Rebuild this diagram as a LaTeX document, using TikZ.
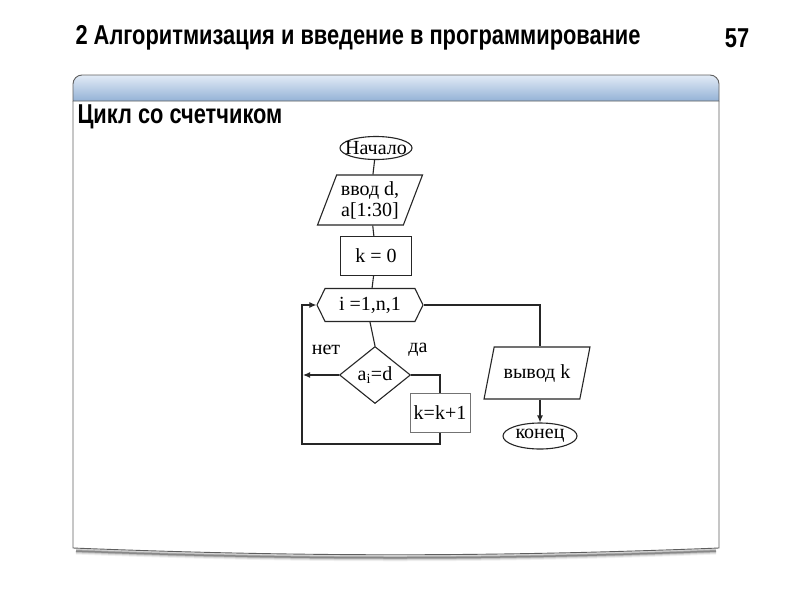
\documentclass[tikz,border=0pt]{standalone}
\usepackage{fontspec}
\setmainfont{Liberation Serif}
\newfontfamily\narrowfont[FakeStretch=0.8]{Liberation Sans}
\usetikzlibrary{shapes.geometric,shapes.symbols,arrows.meta}
\definecolor{headtop}{RGB}{226,235,246}
\definecolor{headbot}{RGB}{148,178,214}
\definecolor{framegray}{RGB}{95,95,95}
\begin{document}
\begin{tikzpicture}[x=1pt,y=-1pt,
    line width=1.1pt, draw=black!85,
    every node/.style={font=\fontsize{20}{21}\selectfont, inner sep=1pt},
    term/.style={ellipse,draw,minimum width=72pt,minimum height=23pt,inner xsep=-6pt,inner ysep=-2pt},
    io/.style={trapezium,draw,trapezium left angle=66,trapezium right angle=114,
      trapezium stretches=true,minimum width=106pt,minimum height=50pt,align=center,inner sep=0pt},
    proc/.style={rectangle,draw,minimum width=71pt,minimum height=39pt},
    thinproc/.style={rectangle,draw=black!55,line width=0.7pt,minimum width=60pt,minimum height=39pt,inner sep=0pt},
    test/.style={diamond,draw,aspect=1.25,minimum width=71pt,minimum height=57pt,inner sep=-4pt},
    loopbox/.style={signal,draw,signal to=west and east,signal pointer angle=128,
      minimum width=106pt,minimum height=33pt},
    head/.style={font=\narrowfont\bfseries\fontsize{27.3}{29}\selectfont,inner sep=0pt},
    flow/.style={-{Latex[length=7pt,width=6pt]}}]

  \useasboundingbox (0,0) rectangle (800,600);

  % slide
  \foreach \d/\o in {7/0.06,5/0.10,3/0.16,1.5/0.25}
    \draw[line width=\d pt,draw=black,opacity=\o] (76,551) .. controls (300,560) and (490,560) .. (716,551);
  \draw[line width=0.9pt,draw=framegray,fill=white]
    (73,101) -- (73,548) .. controls (300,557) and (490,557) .. (719,548) -- (719,101);
  \draw[line width=0.9pt,draw=framegray,top color=headtop,bottom color=headbot]
    (73,101) [rounded corners=9pt] -- (73,75) -- (719,75) [sharp corners] -- (719,101) -- cycle;
  \draw[line width=0.8pt,draw=white] (74,103) -- (718,103);

  \node[head,anchor=west] (title) at (75,38) {2 Алгоритмизация и введение в программирование};
  \node[head] (page) at (737,38) {57};
  \node[head,anchor=west] (topic) at (77,117) {Цикл со счетчиком};

  % flowchart
  \node[term] (start) at (376,148) {Начало};
  \node[io] (input) at (370,200) {ввод d,\\a[1:30]};
  \node[proc] (init) at (376,256) {k = 0};
  \node[loopbox] (loop) at (370,305) {i =1,n,1};
  \node[test] (cond) at (375,375) {a\textsubscript{i}=d};
  \node[thinproc] (inc) at (440,413) {k=k+1};
  \node[io,minimum height=52pt] (output) at (537,373) {вывод k};
  \node[term,minimum width=74pt,minimum height=26pt] (stop) at (540,436) {конец};

  \node (no) at (326,350) {нет};
  \node (yes) at (418,350) {да};

  \coordinate (back) at (302,444);
  \coordinate (backtop) at (302,305);
  \coordinate (noend) at (303,375);
  \coordinate (outtop) at (540,305);

  \draw (start) -- (input);
  \draw (input) -- (init);
  \draw (init) -- (loop);
  \draw (loop.south) -- (cond.north);
  \draw (cond.east) -| (inc.north);
  \draw[flow] (inc.south) |- (back) -- (backtop) -- (loop.west);
  \draw[flow] (cond.west) -- (noend);
  \draw (loop.east) -- (outtop) -- (outtop |- output.north);
  \draw[flow] (output.south -| outtop) -- (stop.north);

\end{tikzpicture}
\end{document}
